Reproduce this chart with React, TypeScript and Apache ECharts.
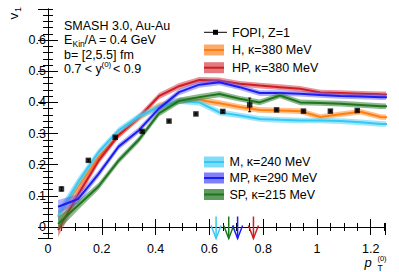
import React, { useEffect, useRef } from "react";
import * as echarts from "echarts";

// pT bin centres where the model curves are evaluated
const ptNodes = [0.0375, 0.1125, 0.1875, 0.2625, 0.3375, 0.4125, 0.4875, 0.5625, 0.6375, 0.7125, 0.7875, 0.8625, 0.9375, 1.0125, 1.0875, 1.1625, 1.2375, 1.3125];

const v1H = [0.032, 0.13, 0.225, 0.295, 0.35, 0.39, 0.405, 0.408, 0.397, 0.385, 0.376, 0.374, 0.372, 0.353, 0.362, 0.37, 0.353, 0.35];
const v1HP = [-0.01, 0.105, 0.212, 0.295, 0.352, 0.42, 0.452, 0.472, 0.47, 0.46, 0.454, 0.449, 0.444, 0.432, 0.43, 0.428, 0.426, 0.425];
const v1M = [0.035, 0.145, 0.24, 0.31, 0.355, 0.385, 0.405, 0.4, 0.368, 0.358, 0.347, 0.344, 0.342, 0.342, 0.34, 0.336, 0.331, 0.33];
const v1MP = [0.065, 0.09, 0.17, 0.258, 0.31, 0.38, 0.433, 0.457, 0.465, 0.449, 0.43, 0.43, 0.428, 0.424, 0.421, 0.419, 0.417, 0.416];
const v1SP = [0.01, 0.07, 0.13, 0.213, 0.28, 0.365, 0.405, 0.417, 0.427, 0.412, 0.4, 0.422, 0.4, 0.398, 0.396, 0.392, 0.388, 0.387];
const bandHalfWidth = [0.022, 0.015, 0.011, 0.01, 0.01, 0.01, 0.01, 0.01, 0.01, 0.009, 0.009, 0.009, 0.009, 0.009, 0.009, 0.009, 0.009, 0.009];

// FOPI data, Z=1
const fopiPt = [0.05, 0.15, 0.25, 0.35, 0.45, 0.55, 0.65, 0.75, 0.85, 0.95, 1.05, 1.15];
const fopiV1 = [0.122, 0.214, 0.288, 0.307, 0.34, 0.363, 0.371, 0.392, 0.376, 0.372, 0.372, 0.374];
const fopiErr = [0.006, 0.003, 0.003, 0.003, 0.003, 0.003, 0.003, 0.022, 0.003, 0.003, 0.003, 0.003];

// arrows marking pT positions
const arrowPt = [0.625, 0.672, 0.705, 0.764];
const arrowModel = ["M", "SP", "MP", "HP"];

const xTickLabels = ["0", "0.2", "0.4", "0.6", "0.8", "1", "1.2"];

const models = [
  { name: "H, κ=380 MeV", key: "H", data: v1H, line: "#ff7f0e", band: "rgba(255,140,50,0.55)", box: "#fcaa6c" },
  { name: "HP, κ=380 MeV", key: "HP", data: v1HP, line: "#cf1d22", band: "rgba(214,60,72,0.55)", box: "#e27a7e" },
  { name: "M, κ=240 MeV", key: "M", data: v1M, line: "#36c8f5", band: "rgba(80,212,250,0.55)", box: "#7fdcf8" },
  { name: "MP, κ=290 MeV", key: "MP", data: v1MP, line: "#1c1cf5", band: "rgba(95,95,255,0.5)", box: "#8080fa" },
  { name: "SP, κ=215 MeV", key: "SP", data: v1SP, line: "#1d761d", band: "rgba(50,125,50,0.55)", box: "#5f9a5f" },
];

const FONT = "Liberation Sans, Arial, Helvetica, sans-serif";

export default function App() {
  const ref = useRef<HTMLDivElement>(null);
  useEffect(() => {
    if (!ref.current) return;
    const chart = echarts.init(ref.current, undefined, { renderer: "svg" });
    const G = { left: 48, right: 13.5, top: 9, bottom: 33.5 };
    const xMin = 0, xMax = 1.255, yMin = -0.037, yMax = 0.7;
    const black = { lineStyle: { color: "#000", width: 1 } };

    const bandSeries = models.map((m, k) => ({
      type: "custom",
      name: m.name + " band",
      xAxisIndex: 0,
      yAxisIndex: 0,
      clip: true,
      silent: true,
      z: 2 + k * 2,
      data: [[0, 0]],
      renderItem: (_p: any, api: any) => {
        const up = ptNodes.map((x, i) => api.coord([x, m.data[i] + bandHalfWidth[i]]));
        const lo = ptNodes.map((x, i) => api.coord([x, m.data[i] - bandHalfWidth[i]])).reverse();
        return { type: "polygon", shape: { points: up.concat(lo) }, style: { fill: m.band, stroke: "none" } };
      },
    }));
    const lineSeries = models.map((m, k) => ({
      type: "line",
      name: m.name,
      xAxisIndex: 0,
      yAxisIndex: 0,
      symbol: "none",
      z: 3 + k * 2,
      lineStyle: { color: m.line, width: 2 },
      data: ptNodes.map((x, i) => [x, m.data[i]]),
    }));

    const legendItems: any[] = [];
    const addBoxItem = (x0: number, yc: number, tx: number, m: any) => {
      legendItems.push({ type: "rect", shape: { x: x0, y: yc - 5.5, width: 20, height: 11 }, style: { fill: m.box } });
      legendItems.push({ type: "line", shape: { x1: x0, y1: yc, x2: x0 + 20, y2: yc }, style: { stroke: m.line, lineWidth: 2 } });
      legendItems.push({ type: "text", x: tx, y: yc, style: { text: m.name, font: `12.5px ${FONT}`, fill: "#000", textVerticalAlign: "middle" } });
    };
    legendItems.push({ type: "line", shape: { x1: 204, y1: 32.3, x2: 227, y2: 32.3 }, style: { stroke: "#000", lineWidth: 1 } });
    legendItems.push({ type: "rect", shape: { x: 213, y: 29.8, width: 5, height: 5 }, style: { fill: "#000" } });
    legendItems.push({ type: "text", x: 232, y: 32.5, style: { text: "FOPI, Z=1", font: `12.5px ${FONT}`, fill: "#000", textVerticalAlign: "middle" } });
    addBoxItem(204, 50, 232, models[0]);
    addBoxItem(204, 67.7, 232, models[1]);
    addBoxItem(204, 162, 229.5, models[2]);
    addBoxItem(204, 178, 229.5, models[3]);
    addBoxItem(204, 194.5, 229.5, models[4]);

    const t = (text: string, x: number, y: number, size: number, extra: any = {}) => ({
      type: "text", x, y, ...extra,
      style: { text, font: `${extra.italic ? "italic " : ""}${size}px ${FONT}`, fill: "#000", textVerticalAlign: "middle", textAlign: extra.align || "left" },
    });

    const option: any = {
      animation: false,
      grid: [G, G, G, G].map((g) => ({ ...g })),
      xAxis: [
        { gridIndex: 0, type: "value", position: "bottom", min: xMin, max: xMax, interval: 0.2,
          axisLine: { show: true, ...black }, axisTick: { inside: true, length: 8, ...black },
          axisLabel: { color: "#000", fontSize: 12.5, fontFamily: FONT, margin: 4, showMaxLabel: false,
            formatter: (v: number) => xTickLabels[Math.round(v / 0.2)] ?? "" },
          splitLine: { show: false } },
        { gridIndex: 1, type: "value", position: "bottom", min: xMin, max: xMax, interval: 0.05,
          axisLine: { show: false }, axisTick: { inside: true, length: 4, ...black }, axisLabel: { show: false }, splitLine: { show: false } },
        { gridIndex: 2, type: "value", position: "top", min: xMin, max: xMax, interval: 0.2,
          axisLine: { show: true, ...black }, axisTick: { inside: true, length: 8, ...black }, axisLabel: { show: false }, splitLine: { show: false } },
        { gridIndex: 3, type: "value", position: "top", min: xMin, max: xMax, interval: 0.05,
          axisLine: { show: false }, axisTick: { inside: true, length: 4, ...black }, axisLabel: { show: false }, splitLine: { show: false } },
      ],
      yAxis: [
        { gridIndex: 0, type: "value", position: "left", min: yMin, max: yMax, splitNumber: 7, minInterval: 0.1, maxInterval: 0.1,
          axisLine: { show: true, ...black }, axisTick: { inside: true, length: 10, ...black },
          axisLabel: { color: "#000", fontSize: 12.5, fontFamily: FONT, margin: 2, showMinLabel: false, showMaxLabel: false },
          splitLine: { show: false } },
        { gridIndex: 1, type: "value", position: "left", min: yMin, max: yMax, splitNumber: 37, minInterval: 0.02, maxInterval: 0.02,
          axisLine: { show: false }, axisTick: { inside: true, length: 5, ...black }, axisLabel: { show: false }, splitLine: { show: false } },
        { gridIndex: 2, type: "value", position: "right", min: yMin, max: yMax, splitNumber: 7, minInterval: 0.1, maxInterval: 0.1,
          axisLine: { show: true, ...black }, axisTick: { inside: true, length: 10, ...black }, axisLabel: { show: false }, splitLine: { show: false } },
        { gridIndex: 3, type: "value", position: "right", min: yMin, max: yMax, splitNumber: 37, minInterval: 0.02, maxInterval: 0.02,
          axisLine: { show: false }, axisTick: { inside: true, length: 5, ...black }, axisLabel: { show: false }, splitLine: { show: false } },
      ],
      series: [
        ...bandSeries,
        ...lineSeries,
        {
          type: "custom", name: "FOPI err", xAxisIndex: 0, yAxisIndex: 0, z: 20, silent: true,
          data: fopiPt.map((x, i) => [x, fopiV1[i] - fopiErr[i], fopiV1[i] + fopiErr[i]]),
          renderItem: (_p: any, api: any) => {
            const a = api.coord([api.value(0), api.value(1)]);
            const b = api.coord([api.value(0), api.value(2)]);
            return { type: "group", children: [
              { type: "line", shape: { x1: a[0], y1: a[1], x2: b[0], y2: b[1] }, style: { stroke: "#000", lineWidth: 1 } },
              { type: "line", shape: { x1: a[0] - 1.5, y1: a[1], x2: a[0] + 1.5, y2: a[1] }, style: { stroke: "#000", lineWidth: 1 } },
              { type: "line", shape: { x1: b[0] - 1.5, y1: b[1], x2: b[0] + 1.5, y2: b[1] }, style: { stroke: "#000", lineWidth: 1 } },
            ] };
          },
        },
        {
          type: "scatter", name: "FOPI, Z=1", xAxisIndex: 0, yAxisIndex: 0, z: 21, symbol: "rect", symbolSize: 5.5,
          itemStyle: { color: "#000" }, data: fopiPt.map((x, i) => [x, fopiV1[i]]),
        },
        {
          type: "custom", name: "arrows", xAxisIndex: 0, yAxisIndex: 0, z: 22, silent: true,
          data: arrowPt.map((x, i) => [x, i]),
          renderItem: (params: any, api: any) => {
            const cs = params.coordSys;
            const px = api.coord([api.value(0), 0])[0];
            const bottom = cs.y + cs.height;
            const m = models.find((mm) => mm.key === arrowModel[params.dataIndex])!;
            return { type: "group", children: [
              { type: "line", shape: { x1: px, y1: bottom - 22, x2: px, y2: bottom }, style: { stroke: m.line, lineWidth: 1.5 } },
              { type: "polyline", shape: { points: [[px - 5, bottom - 13], [px, bottom], [px + 5, bottom - 13]] }, style: { stroke: m.line, lineWidth: 1.5, fill: "none" } },
            ] };
          },
        },
      ],
      graphic: [
        t("SMASH 3.0, Au-Au", 64, 26, 12.5),
        t("E", 64, 40, 12.5),
        t("Kin", 72.5, 43.5, 8.5),
        t("/A = 0.4 GeV", 84.5, 40, 12.5),
        t("b= [2,5.5] fm", 64, 54.5, 12.5),
        t("0.7 < y", 64, 69, 12.5),
        t("(0)", 101.5, 64.8, 8),
        t("< 0.9", 113, 69, 12.5),
        t("v", 13.5, 16, 13.5, { rotation: Math.PI / 2, align: "center" }),
        t("1", 17.5, 9.5, 9, { rotation: Math.PI / 2, align: "center" }),
        t("p", 368, 262, 13, { italic: true, align: "center" }),
        t("T", 380, 267.5, 8.5, { align: "center" }),
        t("(0)", 382, 258, 7.5, { align: "center" }),
        ...legendItems,
      ],
    };
    chart.setOption(option);
    return () => chart.dispose();
  }, []);
  return <div ref={ref} style={{ width: 399, height: 272, position: "absolute", left: 0, top: 0 }} />;
}
